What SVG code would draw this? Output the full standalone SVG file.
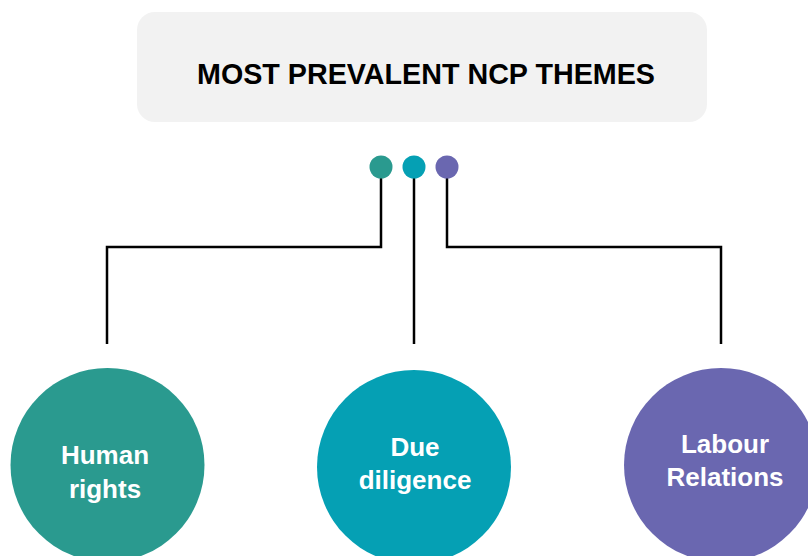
<svg xmlns="http://www.w3.org/2000/svg" width="808" height="556" viewBox="0 0 808 556">
<style>
.lbl{font-family:"Liberation Sans",Arial,sans-serif;font-weight:bold;fill:#fff;font-size:26px;text-anchor:middle}
.ttl{font-family:"Liberation Sans",Arial,sans-serif;font-weight:bold;fill:#000;font-size:30px;text-anchor:middle}
.con{fill:none;stroke:#000;stroke-width:2.5}
</style>
<rect width="808" height="556" fill="#fff"/>
<g id="title">
<rect x="137" y="12" width="570" height="110" rx="18" fill="#f2f2f2"/>
<text class="ttl" x="426" y="84" textLength="458" lengthAdjust="spacingAndGlyphs">MOST PREVALENT NCP THEMES</text>
</g>
<g id="connectors">
<polyline class="con" points="381,168 381,247 107,247 107,344"/>
<polyline class="con" points="414,168 414,344"/>
<polyline class="con" points="447,168 447,247 721,247 721,344"/>
</g>
<g id="dots">
<circle cx="381" cy="167" r="11.5" fill="#2a9a8f"/>
<circle cx="414" cy="167" r="11.5" fill="#05a0b4"/>
<circle cx="447" cy="167" r="11.5" fill="#6a67b0"/>
</g>
<g id="human-rights">
<circle cx="107.5" cy="465" r="97" fill="#2a9a8f"/>
<text class="lbl" x="105" y="464">Human</text>
<text class="lbl" x="105" y="498">rights</text>
</g>
<g id="due-diligence">
<circle cx="414" cy="467" r="97" fill="#05a0b4"/>
<text class="lbl" x="415" y="456">Due</text>
<text class="lbl" x="415" y="489">diligence</text>
</g>
<g id="labour-relations">
<circle cx="721" cy="465" r="97" fill="#6a67b0"/>
<text class="lbl" x="725" y="453">Labour</text>
<text class="lbl" x="725" y="486">Relations</text>
</g>
</svg>
